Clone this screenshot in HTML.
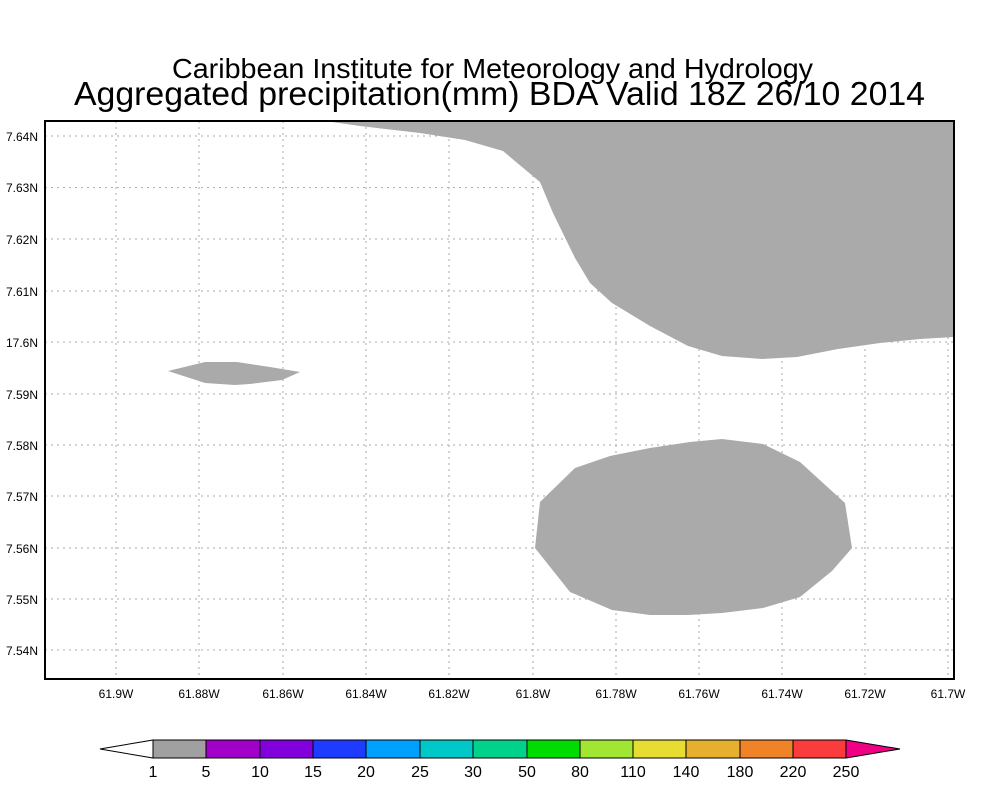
<!DOCTYPE html>
<html><head><style>body{margin:0;background:#fff}svg{display:block}</style></head><body>
<svg width="1000" height="800" xmlns="http://www.w3.org/2000/svg" font-family="Liberation Sans, sans-serif">
<rect width="1000" height="800" fill="#fff"/>
<text x="172" y="78" font-size="28" textLength="641" lengthAdjust="spacingAndGlyphs" fill="#000">Caribbean Institute for Meteorology and Hydrology</text>
<text x="74" y="105" font-size="33" textLength="851" lengthAdjust="spacingAndGlyphs" fill="#000">Aggregated precipitation(mm) BDA Valid 18Z 26/10 2014</text>
<g fill="#aaaaaa">
<polygon points="325,121 360,126 420,133 465,140 503,151 540,182 553,213 575,258 590,283 612,303 650,326 688,346 722,356 762,359 797,357 838,349 880,343 920,339 954,337 954,121"/>
<polygon points="168,371 205,362 237,362 270,367 300,372 282,380 250,384 235,385 205,383"/>
<polygon points="540,502 575,468 610,456 650,448 690,442 722,439 763,444 800,462 845,503 852,548 832,571 800,597 763,608 722,613 688,615 650,615 612,610 570,592 535,548"/>
</g>
<g stroke="#aaa" stroke-width="1" stroke-dasharray="2,4">
<line x1="116" y1="121" x2="116" y2="679"/><line x1="199" y1="121" x2="199" y2="679"/><line x1="283" y1="121" x2="283" y2="679"/><line x1="366" y1="121" x2="366" y2="679"/><line x1="449" y1="121" x2="449" y2="679"/><line x1="533" y1="121" x2="533" y2="679"/><line x1="616" y1="121" x2="616" y2="679"/><line x1="699" y1="121" x2="699" y2="679"/><line x1="782" y1="121" x2="782" y2="679"/><line x1="865" y1="121" x2="865" y2="679"/><line x1="948" y1="121" x2="948" y2="679"/>
<line x1="45" y1="136" x2="954" y2="136"/><line x1="45" y1="187.5" x2="954" y2="187.5"/><line x1="45" y1="239" x2="954" y2="239"/><line x1="45" y1="291" x2="954" y2="291"/><line x1="45" y1="342" x2="954" y2="342"/><line x1="45" y1="394" x2="954" y2="394"/><line x1="45" y1="445" x2="954" y2="445"/><line x1="45" y1="496" x2="954" y2="496"/><line x1="45" y1="548" x2="954" y2="548"/><line x1="45" y1="599" x2="954" y2="599"/><line x1="45" y1="650" x2="954" y2="650"/>
</g>
<rect x="45" y="121" width="909" height="558" fill="none" stroke="#000" stroke-width="2"/>
<g font-size="12" fill="#000" text-anchor="end">
<text x="38" y="141">7.64N</text><text x="38" y="192">7.63N</text><text x="38" y="244">7.62N</text><text x="38" y="296">7.61N</text><text x="38" y="347">17.6N</text><text x="38" y="399">7.59N</text><text x="38" y="450">7.58N</text><text x="38" y="501">7.57N</text><text x="38" y="553">7.56N</text><text x="38" y="604">7.55N</text><text x="38" y="655">7.54N</text>
</g>
<g font-size="12" fill="#000" text-anchor="middle">
<text x="116" y="698">61.9W</text><text x="199" y="698">61.88W</text><text x="283" y="698">61.86W</text><text x="366" y="698">61.84W</text><text x="449" y="698">61.82W</text><text x="533" y="698">61.8W</text><text x="616" y="698">61.78W</text><text x="699" y="698">61.76W</text><text x="782" y="698">61.74W</text><text x="865" y="698">61.72W</text><text x="948" y="698">61.7W</text>
</g>
<g stroke="#000" stroke-width="1">
<polygon points="100,749 153,740 153,758" fill="#fff"/>
<rect x="153" y="740" width="53" height="18" fill="#a0a0a0"/>
<rect x="206" y="740" width="54" height="18" fill="#a000c8"/>
<rect x="260" y="740" width="53" height="18" fill="#8200dc"/>
<rect x="313" y="740" width="53" height="18" fill="#1e3cff"/>
<rect x="366" y="740" width="54" height="18" fill="#00a0ff"/>
<rect x="420" y="740" width="53" height="18" fill="#00c8c8"/>
<rect x="473" y="740" width="54" height="18" fill="#00d28c"/>
<rect x="527" y="740" width="53" height="18" fill="#00dc00"/>
<rect x="580" y="740" width="53" height="18" fill="#a0e632"/>
<rect x="633" y="740" width="53" height="18" fill="#e6dc32"/>
<rect x="686" y="740" width="54" height="18" fill="#e6af2d"/>
<rect x="740" y="740" width="53" height="18" fill="#f08228"/>
<rect x="793" y="740" width="53" height="18" fill="#fa3c3c"/>
<polygon points="846,740 900,749 846,758" fill="#f00082"/>
</g>
<g font-size="16" fill="#000" text-anchor="middle">
<text x="153" y="777">1</text><text x="206" y="777">5</text><text x="260" y="777">10</text><text x="313" y="777">15</text><text x="366" y="777">20</text><text x="420" y="777">25</text><text x="473" y="777">30</text><text x="527" y="777">50</text><text x="580" y="777">80</text><text x="633" y="777">110</text><text x="686" y="777">140</text><text x="740" y="777">180</text><text x="793" y="777">220</text><text x="846" y="777">250</text>
</g>
</svg>
</body></html>
